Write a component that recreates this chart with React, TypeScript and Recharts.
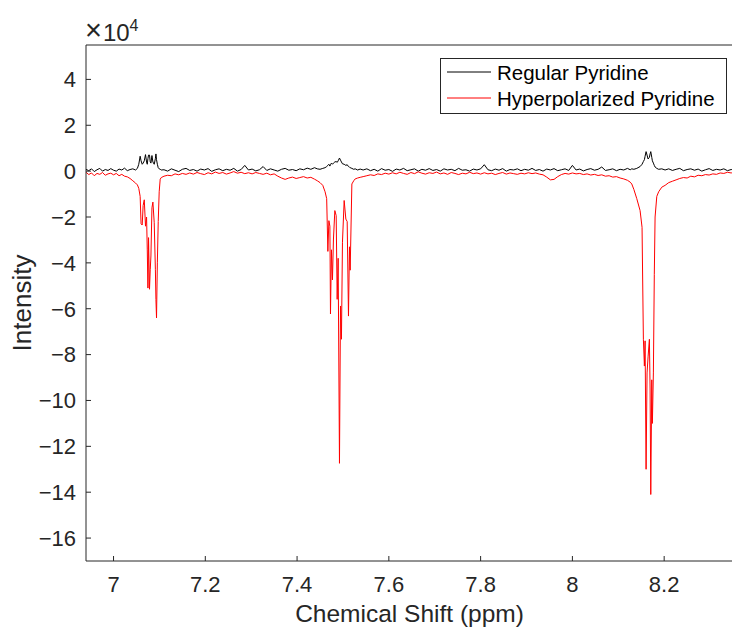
import { LineChart, Line, XAxis, YAxis, Legend, Label } from "recharts";

const FONT = '"Liberation Sans", Arial, Helvetica, sans-serif';
const AXIS = "#262626";

// chemical shift grid (ppm), denser through the three multiplets
const ppm = [
  6.94, 6.946, 6.952, 6.958, 6.964, 6.97, 6.976, 6.982, 6.988, 6.994, 7.0, 7.006, 7.012, 7.018, 7.024, 7.03, 7.036, 7.042, 7.048,
  7.052, 7.055, 7.058, 7.06, 7.0625, 7.0645, 7.067, 7.0697, 7.072, 7.0735, 7.075, 7.0763, 7.0784, 7.08, 7.0815, 7.0837, 7.0858, 7.0887, 7.0912, 7.0924, 7.0937, 7.0955, 7.0974, 7.0995, 7.1017, 7.104,
  7.11, 7.118, 7.126, 7.134, 7.142, 7.15, 7.158, 7.166, 7.174, 7.182, 7.19, 7.198, 7.206, 7.214, 7.222, 7.23, 7.238, 7.246, 7.254, 7.262, 7.27, 7.278, 7.286, 7.294, 7.302, 7.31, 7.318, 7.326, 7.334, 7.342, 7.35, 7.358, 7.366, 7.374, 7.382, 7.39, 7.398, 7.406, 7.414, 7.422, 7.43, 7.438,
  7.444, 7.45, 7.456, 7.461, 7.4645, 7.4671, 7.4693, 7.4715, 7.4728, 7.4749, 7.4771, 7.4793, 7.4823, 7.4852, 7.4874, 7.4895, 7.4924, 7.4946, 7.4967, 7.4989, 7.5026, 7.5063, 7.5092, 7.512, 7.5142, 7.5157, 7.5194, 7.5235, 7.5266, 7.532, 7.5375,
  7.544, 7.552, 7.56, 7.568, 7.576, 7.584, 7.592, 7.6, 7.608, 7.616, 7.624, 7.632, 7.64, 7.648, 7.656, 7.664, 7.672, 7.68, 7.688, 7.696, 7.704, 7.712, 7.72, 7.728, 7.736, 7.744, 7.752, 7.76, 7.768, 7.776, 7.784, 7.792, 7.8,
  7.808, 7.816, 7.824, 7.832, 7.84, 7.848, 7.856, 7.864, 7.872, 7.88, 7.888, 7.896, 7.904, 7.912, 7.92, 7.928, 7.936, 7.944, 7.952, 7.96, 7.968, 7.976, 7.984, 7.992, 8.0,
  8.008, 8.016, 8.024, 8.032, 8.04, 8.048, 8.056, 8.064, 8.072, 8.08, 8.088, 8.096, 8.104, 8.112, 8.12,
  8.126, 8.1294, 8.134, 8.1403, 8.1475, 8.1518, 8.1547, 8.1569, 8.1584, 8.1606, 8.1627, 8.1649, 8.1678, 8.1693, 8.1708, 8.173, 8.1743, 8.1765, 8.1785, 8.1802, 8.1839, 8.188, 8.1948,
  8.202, 8.21, 8.218, 8.226, 8.234, 8.242, 8.25, 8.258, 8.266, 8.274, 8.282, 8.29, 8.298, 8.306, 8.314, 8.322, 8.33, 8.338, 8.346, 8.35,
];

// intensities in units of 1e4
const regular = [
  0.08, 0.02, 0.1, -0.02, 0.06, 0.12, 0.0, 0.07, 0.03, 0.11, 0.04, 0.0, 0.09, 0.05, 0.13, 0.02, 0.07, 0.1, 0.05,
  0.12, 0.3, 0.65, 0.45, 0.3, 0.35, 0.45, 0.72, 0.4, 0.3, 0.55, 0.7, 0.7, 0.4, 0.35, 0.68, 0.4, 0.3, 0.55, 0.75, 0.5, 0.3, 0.15, 0.1, 0.08, 0.05,
  0.06, 0.0, 0.1, 0.04, -0.02, 0.08, 0.12, 0.03, 0.07, 0.0, 0.09, 0.05, 0.11, -0.01, 0.06, 0.1, 0.02, 0.08, 0.04, 0.12, 0.0, 0.07, 0.25, 0.05, 0.09, 0.01, 0.06, 0.2, 0.03, 0.1, 0.05, 0.0, 0.08, 0.12, 0.04, 0.07, 0.02, 0.1, 0.06, 0.13, 0.08, 0.15,
  0.1, 0.08, 0.12, 0.15, 0.2, 0.25, 0.3, 0.22, 0.28, 0.35, 0.3, 0.35, 0.4, 0.42, 0.38, 0.45, 0.57, 0.48, 0.4, 0.32, 0.3, 0.25, 0.28, 0.2, 0.18, 0.15, 0.12, 0.08, 0.1, 0.05, 0.09,
  0.05, 0.1, 0.02, 0.08, 0.0, 0.11, 0.04, 0.07, -0.01, 0.09, 0.05, 0.12, 0.02, 0.06, 0.1, 0.0, 0.08, 0.04, 0.11, 0.03, 0.07, 0.0, 0.1, 0.05, 0.08, 0.02, 0.12, 0.04, 0.06, 0.0, 0.09, 0.05, 0.1,
  0.28, 0.06, 0.02, 0.09, 0.04, 0.11, 0.0, 0.07, 0.05, 0.1, 0.02, 0.08, 0.04, 0.12, 0.03, 0.07, 0.0, 0.09, 0.05, 0.11, 0.02, 0.06, 0.1, 0.03, 0.25,
  0.05, 0.09, 0.01, 0.07, 0.11, 0.04, 0.08, 0.18, 0.03, 0.06, 0.1, 0.02, 0.08, 0.05, 0.12,
  0.06, 0.1, 0.08, 0.12, 0.2, 0.3, 0.42, 0.5, 0.65, 0.85, 0.7, 0.53, 0.6, 0.75, 0.85, 0.6, 0.45, 0.35, 0.25, 0.18, 0.12, 0.08, 0.1,
  0.05, 0.1, 0.03, 0.08, 0.12, 0.02, 0.07, 0.1, 0.04, 0.09, 0.0, 0.06, 0.11, 0.03, 0.08, 0.05, 0.1, 0.02, 0.07, 0.06,
];

const hyperpolarized = [
  -0.05, -0.15, -0.08, -0.2, -0.1, -0.14, -0.06, -0.18, -0.12, -0.09, -0.16, -0.1, -0.2, -0.14, -0.22, -0.25, -0.32, -0.42, -0.52,
  -0.6, -0.75, -1.1, -2.3, -2.35, -1.5, -1.25, -2.4, -2.0, -3.4, -5.1, -2.9, -5.15, -4.3, -3.7, -1.6, -1.35, -2.25, -4.3, -5.6, -6.4, -4.0, -2.2, -0.9, -0.35, -0.28,
  -0.22, -0.18, -0.2, -0.12, -0.16, -0.1, -0.14, -0.08, -0.13, -0.06, -0.11, -0.15, -0.07, -0.12, -0.04, -0.1, -0.06, -0.13, -0.08, -0.02, -0.09, -0.05, -0.11, -0.07, -0.12, -0.06, -0.1, -0.14, -0.09, -0.16, -0.12, -0.22, -0.3, -0.36, -0.3, -0.26, -0.32, -0.28, -0.24, -0.3, -0.27, -0.35,
  -0.42, -0.5, -0.62, -0.9, -1.2, -3.5, -2.16, -2.4, -6.23, -3.43, -4.74, -2.96, -1.72, -1.94, -5.59, -3.8, -12.74, -5.88, -7.33, -3.1, -1.28, -2.09, -2.2, -6.32, -3.3, -4.32, -0.56, -0.42, -0.34, -0.3, -0.27,
  -0.24, -0.2, -0.16, -0.19, -0.12, -0.15, -0.09, -0.13, -0.07, -0.12, -0.05, -0.1, -0.14, -0.06, -0.11, -0.03, -0.09, -0.13, -0.07, -0.1, -0.04, -0.12, -0.08, -0.14, -0.06, -0.1, -0.15, -0.09, -0.12, -0.05, -0.11, -0.08, -0.13,
  -0.07, -0.12, -0.09, -0.15, -0.1, -0.06, -0.13, -0.08, -0.11, -0.14, -0.09, -0.12, -0.07, -0.11, -0.08, -0.13, -0.16, -0.26, -0.38, -0.36, -0.24, -0.15, -0.1, -0.13, -0.08,
  -0.12, -0.1, -0.15, -0.12, -0.17, -0.14, -0.19, -0.16, -0.22, -0.2, -0.26, -0.24, -0.3, -0.34, -0.4,
  -0.48, -0.56, -0.8, -1.2, -1.72, -2.45, -7.33, -8.5, -7.4, -13.0, -8.8, -8.1, -7.33, -9.5, -14.1, -9.1, -11.0, -8.8, -4.5, -2.0, -1.1, -0.9, -0.7,
  -0.62, -0.5, -0.44, -0.38, -0.32, -0.28, -0.3, -0.22, -0.25, -0.18, -0.2, -0.15, -0.17, -0.12, -0.14, -0.08, -0.1, -0.05, -0.08, -0.06,
];

const xTicks = [7, 7.2, 7.4, 7.6, 7.8, 8, 8.2];
const yTicks = [-16, -14, -12, -10, -8, -6, -4, -2, 0, 2, 4];
const seriesNames = ["Regular Pyridine", "Hyperpolarized Pyridine"];
const seriesColors = ["#000000", "#ff0000"];

const data = ppm.map((p, i) => ({
  ppm: p,
  regular: regular[i],
  hyperpolarized: hyperpolarized[i],
}));

// MATLAB prints negative ticks with a real minus sign
const minusFormat = (v: number) => String(v).replace("-", "\u2212");

function LegendBox() {
  return (
    <svg width={287} height={56} style={{ display: "block" }}>
      <rect x={0.5} y={0.5} width={286} height={55} fill="#fff" stroke={AXIS} strokeWidth={1} />
      {seriesNames.map((name, i) => (
        <g key={name}>
          <line x1={7} x2={51} y1={14 + i * 26} y2={14 + i * 26} stroke={seriesColors[i]} strokeWidth={1} />
          <text x={57} y={22 + i * 26} fontSize={20.5} fontFamily={FONT} fill="#000">
            {name}
          </text>
        </g>
      ))}
    </svg>
  );
}

export default function App() {
  return (
    <div
      style={{
        position: "fixed",
        left: 0,
        top: 0,
        width: 732,
        height: 632,
        overflow: "hidden",
        background: "#fff",
      }}
    >
      <LineChart width={760} height={632} data={data} margin={{ top: 44, right: 27, bottom: 0, left: 0 }}>
        <XAxis
          dataKey="ppm"
          type="number"
          domain={[6.94, 8.35]}
          allowDataOverflow
          ticks={xTicks}
          interval={0}
          height={71}
          stroke={AXIS}
          tickSize={-5}
          tickMargin={20}
          tick={{ fill: AXIS, fontSize: 22, fontFamily: FONT }}
        >
          <Label
            value="Chemical Shift (ppm)"
            position="insideBottom"
            offset={10}
            style={{ fill: AXIS, fontSize: 24.5, fontFamily: FONT }}
          />
        </XAxis>
        <XAxis
          xAxisId="top"
          orientation="top"
          dataKey="ppm"
          type="number"
          domain={[6.94, 8.35]}
          allowDataOverflow
          ticks={xTicks}
          interval={0}
          height={1}
          stroke={AXIS}
          tickSize={-5}
          tick={false}
        />
        <YAxis
          type="number"
          domain={[-17, 5.5]}
          allowDataOverflow
          ticks={yTicks}
          interval={0}
          width={86}
          stroke={AXIS}
          tickSize={-5}
          tickMargin={15}
          tickFormatter={minusFormat}
          tick={{ fill: AXIS, fontSize: 22, fontFamily: FONT }}
        >
          <Label
            value="Intensity"
            angle={-90}
            position="insideLeft"
            offset={22}
            style={{ textAnchor: "middle", fill: AXIS, fontSize: 26, fontFamily: FONT }}
          />
        </YAxis>
        <Line
          dataKey="regular"
          name={seriesNames[0]}
          type="linear"
          stroke={seriesColors[0]}
          strokeWidth={1}
          dot={false}
          isAnimationActive={false}
        />
        <Line
          dataKey="hyperpolarized"
          name={seriesNames[1]}
          type="linear"
          stroke={seriesColors[1]}
          strokeWidth={1}
          dot={false}
          isAnimationActive={false}
        />
        <Legend
          layout="vertical"
          align="center"
          verticalAlign="middle"
          content={() => <LegendBox />}
          wrapperStyle={{ left: 440, top: 58, width: 287, height: 56 }}
        />
      </LineChart>
      <svg
        width={180}
        height={45}
        style={{ position: "absolute", left: 0, top: 0, pointerEvents: "none" }}
      >
        <text y={41} fontFamily={FONT} fill={AXIS}>
          <tspan x={85} y={40} fontSize={29} fontWeight={300}>×</tspan>
          <tspan x={103} y={41} fontSize={24}>10</tspan>
          <tspan x={129.5} y={31} fontSize={16}>4</tspan>
        </text>
      </svg>
    </div>
  );
}
